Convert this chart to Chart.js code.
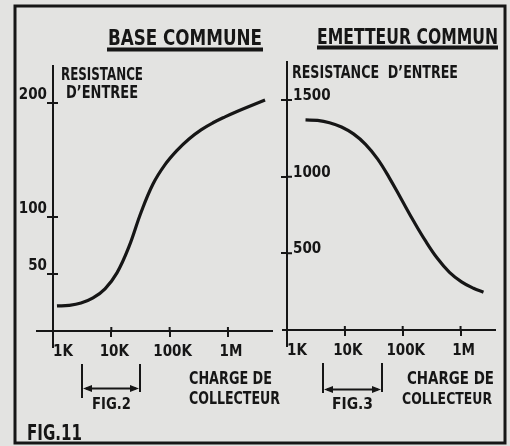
<!DOCTYPE html>
<html lang="fr">
<head>
<meta charset="UTF-8">
<title>Résistance d'entrée</title>
<script src="https://cdn.jsdelivr.net/npm/chart.js@4.4.0/dist/chart.umd.min.js"></script>
<style>
  html, body { margin: 0; padding: 0; background: #e3e3e1; }
  #wrap { position: relative; width: 510px; height: 446px; }
  canvas { position: absolute; left: 0; top: 0; }
</style>
</head>
<body>
<div id="wrap">
  <canvas id="baseChart" width="510" height="446"></canvas>
  <canvas id="emetteurChart" width="510" height="446"></canvas>
</div>
<script>
// charge de collecteur (ohms) -> résistance d'entrée
const baseCharge = [1170, 1880, 3020, 4860, 7800, 12500, 20100, 32300, 51900, 83400, 134000, 215000, 346000, 555000, 892000, 1430000, 2300000, 4330000];
const baseResistance = [22, 22.5, 24.5, 29, 37, 51, 74, 104, 129, 146, 158.5, 168.5, 176.5, 182.7, 187.9, 192.6, 197, 202.6];
const emetteurCharge = [2090, 3370, 5430, 8750, 14100, 22800, 36700, 59100, 95400, 154000, 248000, 400000, 644000, 1040000, 1670000, 2490000];
const emetteurResistance = [1370, 1367, 1352, 1324, 1279, 1211, 1116, 991, 851, 711, 581, 466, 376, 314, 272, 247];
const chargeTicks = [1e3, 1e4, 1e5, 1e6];
const chargeTickLabels = ['   1K', '10K', '100K', '1M'];
const baseTicks = [50, 100, 200];
const emetteurTicks = [500, 1000, 1500];

const INK = '#161616';
const FAMILY = '"DejaVu Sans Condensed", "Liberation Sans Narrow", "DejaVu Sans", sans-serif';

// draw text stretched to sit between x1 and x2, caps of height cap on baseline
function fitText(ctx, text, x1, x2, base, cap) {
  ctx.font = 'bold ' + (cap / 0.73).toFixed(1) + 'px ' + FAMILY;
  const w = ctx.measureText(text).width;
  ctx.save();
  ctx.translate(x1, base);
  ctx.scale((x2 - x1) / w, 1);
  ctx.textBaseline = 'alphabetic';
  ctx.textAlign = 'left';
  ctx.fillText(text, 0, 0);
  ctx.restore();
}

function arrowHead(ctx, x, y, dir) {
  ctx.beginPath();
  ctx.moveTo(x, y);
  ctx.lineTo(x - dir * 9, y - 3.5);
  ctx.lineTo(x - dir * 9, y + 3.5);
  ctx.closePath();
  ctx.fill();
}

// axis extensions, inner tick halves, titles, brackets
const panelPlugin = {
  id: 'panel',
  afterDraw(chart, args, opts) {
    const ctx = chart.ctx;
    const xs = chart.scales.x, ys = chart.scales.y;
    ctx.save();
    ctx.strokeStyle = INK;
    ctx.fillStyle = INK;
    ctx.lineWidth = 2;
    ctx.lineCap = 'butt';

    // axes cross at 1K / 0
    const x0 = xs.getPixelForValue(1000), y0 = ys.getPixelForValue(0);
    ctx.beginPath();
    ctx.moveTo(opts.axisLeft, y0); ctx.lineTo(x0, y0);
    ctx.moveTo(x0, y0); ctx.lineTo(x0, opts.axisBottom);
    ctx.stroke();

    ctx.beginPath();
    xs.ticks.forEach(t => {
      if (t.value === 1000) return;
      const px = xs.getPixelForValue(t.value);
      ctx.moveTo(px, y0); ctx.lineTo(px, y0 - 4);
    });
    ys.ticks.forEach(t => {
      const py = ys.getPixelForValue(t.value);
      ctx.moveTo(x0, py); ctx.lineTo(x0 + 5, py);
    });
    ctx.stroke();

    if (opts.frame) {
      ctx.lineWidth = 3;
      ctx.strokeRect(15, 6, 490, 437);
      fitText(ctx, 'FIG.11', 27, 82, 440, 15.5);
    }

    opts.texts.forEach(t => fitText(ctx, t.text, t.x1, t.x2, t.base, t.cap));

    const u = opts.underline;
    ctx.fillRect(u.x1, u.y, u.x2 - u.x1, 4);

    const b = opts.bracket;
    ctx.lineWidth = 2;
    ctx.beginPath();
    ctx.moveTo(b.x1, b.top); ctx.lineTo(b.x1, b.bottom1);
    ctx.moveTo(b.x2, b.top); ctx.lineTo(b.x2, b.bottom2);
    ctx.moveTo(b.x1 + 4, b.y); ctx.lineTo(b.x2 - 4, b.y);
    ctx.stroke();
    arrowHead(ctx, b.x1 + 1, b.y, -1);
    arrowHead(ctx, b.x2 - 1, b.y, 1);
    fitText(ctx, b.label, b.lx1, b.lx2, 408.5, 11.5);
    ctx.restore();
  }
};

function makeChart(id, cfg) {
  const font = { family: FAMILY, size: cfg.tickSize, weight: 'bold' };
  return new Chart(document.getElementById(id), {
    type: 'line',
    data: {
      datasets: [{
        data: cfg.charge.map((c, i) => ({ x: c, y: cfg.resistance[i] })),
        borderColor: INK,
        borderWidth: 3.2,
        pointRadius: 0,
        tension: 0.4,
        fill: false
      }]
    },
    plugins: [panelPlugin],
    options: {
      responsive: false,
      animation: false,
      layout: { padding: cfg.padding },
      plugins: { legend: { display: false }, tooltip: { enabled: false }, panel: cfg.panel },
      scales: {
        x: {
          type: 'logarithmic',
          min: 1000,
          max: cfg.xMax,
          afterBuildTicks: s => { s.ticks = chargeTicks.map(v => ({ value: v })); },
          afterFit: s => { s.height = cfg.xHeight; },
          grid: { drawOnChartArea: false, tickLength: 6, color: INK, lineWidth: 2 },
          border: { color: INK, width: 2 },
          ticks: {
            autoSkip: false, maxRotation: 0, color: INK, font: font, padding: 6, labelOffset: 3,
            callback: v => chargeTickLabels[chargeTicks.indexOf(v)]
          }
        },
        y: {
          min: 0,
          max: cfg.yMax,
          afterBuildTicks: s => { s.ticks = cfg.yTicks.map(v => ({ value: v })); },
          afterFit: s => { s.width = cfg.yWidth; },
          grid: { drawOnChartArea: false, tickLength: 6, color: INK, lineWidth: 2 },
          border: { color: INK, width: 2 },
          ticks: {
            color: INK, font: font, mirror: cfg.mirror, padding: cfg.yPad, labelOffset: cfg.yLabelOffset,
            callback: v => String(v)
          }
        }
      }
    }
  });
}

makeChart('baseChart', {
  charge: baseCharge, resistance: baseResistance, yTicks: baseTicks,
  xMax: 5.7e6, yMax: 232.5, xHeight: 115, yWidth: 53, tickSize: 15,
  mirror: false, yPad: 0, yLabelOffset: -8,
  padding: { left: 0, top: 66, right: 238, bottom: 0 },
  panel: {
    frame: true, axisLeft: 36, axisBottom: 348,
    texts: [
      { text: 'BASE COMMUNE', x1: 108, x2: 262, base: 45, cap: 15.5 },
      { text: 'RESISTANCE', x1: 61, x2: 143, base: 79.5, cap: 12.5 },
      { text: 'D\u2019ENTREE', x1: 66, x2: 138, base: 97.5, cap: 12.5 },
      { text: 'CHARGE DE', x1: 189, x2: 272, base: 383.5, cap: 12.5 },
      { text: 'COLLECTEUR', x1: 189, x2: 280, base: 404, cap: 12.5 }
    ],
    underline: { x1: 107, x2: 263, y: 47.5 },
    bracket: { x1: 82, x2: 140, top: 364, bottom1: 398, bottom2: 392, y: 388.5, label: 'FIG.2', lx1: 92, lx2: 131 }
  }
});

makeChart('emetteurChart', {
  charge: emetteurCharge, resistance: emetteurResistance, yTicks: emetteurTicks,
  xMax: 3.94e6, yMax: 1748, xHeight: 116, yWidth: 20, tickSize: 15,
  mirror: true, yPad: 6, yLabelOffset: -4,
  padding: { left: 267, top: 62, right: 15, bottom: 0 },
  panel: {
    frame: false, axisLeft: 282, axisBottom: 347,
    texts: [
      { text: 'EMETTEUR COMMUN', x1: 317, x2: 498, base: 43.5, cap: 15 },
      { text: 'RESISTANCE  D\u2019ENTREE', x1: 292, x2: 458, base: 77.5, cap: 12.3 },
      { text: 'CHARGE DE', x1: 407, x2: 494, base: 383.5, cap: 12.5 },
      { text: 'COLLECTEUR', x1: 402, x2: 492, base: 403.5, cap: 12 }
    ],
    underline: { x1: 317, x2: 498, y: 45.5 },
    bracket: { x1: 323, x2: 382, top: 363, bottom1: 393, bottom2: 392, y: 389.5, label: 'FIG.3', lx1: 332, lx2: 373 }
  }
});
</script>
</body>
</html>
